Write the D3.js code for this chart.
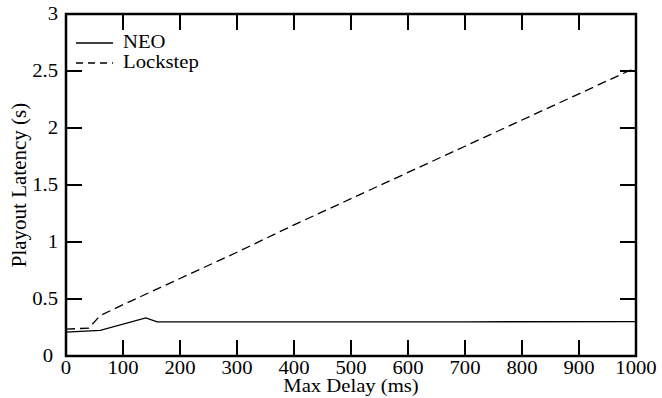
<!DOCTYPE html>
<html>
<head>
<meta charset="utf-8">
<script src="https://cdn.jsdelivr.net/npm/d3@7"></script>
<style>
  body { margin: 0; background: white; }
  text { font-family: "Liberation Serif", "Times New Roman", serif; fill: black; }
</style>
</head>
<body>
<svg id="chart" width="662" height="398"></svg>
<script>
// data
const neoDelay = [0, 60, 140, 160, 400, 700, 1000];
const neoLatency = [0.21, 0.225, 0.335, 0.30, 0.30, 0.30, 0.302];

const lockDelay = [0, 20, 40, 60, 100, 200, 300, 400, 500, 600, 700, 800, 900, 1000];
const lockLatency = [0.235, 0.24, 0.245, 0.355, 0.45, 0.68, 0.91, 1.15, 1.38, 1.61, 1.84, 2.07, 2.30, 2.53];

const xTicks = [0, 100, 200, 300, 400, 500, 600, 700, 800, 900, 1000];
const yTicks = [0, 0.5, 1, 1.5, 2, 2.5, 3];

const svg = d3.select("#chart");
const pLeft = 66, pRight = 636, pTop = 14, pBottom = 356;
const tickLen = 16;
const fs = "18px";
const wide = 1.15; // glyphs in the source look a bit wider than Times

const x = d3.scaleLinear().domain([0, 1000]).range([pLeft, pRight]);
const y = d3.scaleLinear().domain([0, 3]).range([pBottom, pTop]);

// ticks on all four sides, pointing inward
const g = svg.append("g").attr("stroke", "black").attr("stroke-width", 2);
xTicks.slice(1, -1).forEach(t => {
    g.append("line").attr("x1", x(t)).attr("x2", x(t)).attr("y1", pBottom).attr("y2", pBottom - tickLen);
    g.append("line").attr("x1", x(t)).attr("x2", x(t)).attr("y1", pTop).attr("y2", pTop + tickLen);
});
yTicks.slice(1, -1).forEach(t => {
    g.append("line").attr("x1", pLeft).attr("x2", pLeft + tickLen).attr("y1", y(t)).attr("y2", y(t));
    g.append("line").attr("x1", pRight).attr("x2", pRight - tickLen).attr("y1", y(t)).attr("y2", y(t));
});

// tick labels
svg.append("g").selectAll("text").data(xTicks).join("text")
    .attr("transform", d => `translate(${x(d)},374) scale(${wide},1)`)
    .attr("text-anchor", "middle").attr("font-size", fs)
    .text(d => d);
svg.append("g").selectAll("text").data(yTicks).join("text")
    .attr("transform", d => `translate(${d === 0 ? 53 : 58},${y(d) + 6}) scale(${wide},1)`)
    .attr("text-anchor", "end").attr("font-size", fs)
    .text(d => d);

// axis titles
svg.append("text")
    .attr("transform", `translate(${(pLeft + pRight) / 2},392) scale(${wide},1)`)
    .attr("text-anchor", "middle").attr("font-size", fs)
    .text("Max Delay (ms)");
svg.append("text").attr("transform", `translate(26,${(pTop + pBottom) / 2}) rotate(-90)`)
    .attr("text-anchor", "middle").attr("font-size", "21px")
    .text("Playout Latency (s)");

// series
const line = d3.line().x(d => x(d[0])).y(d => y(d[1]));
svg.append("path")
    .datum(neoDelay.map((d, i) => [d, neoLatency[i]]))
    .attr("d", line).attr("fill", "none").attr("stroke", "black").attr("stroke-width", 1.3);
svg.append("path")
    .datum(lockDelay.map((d, i) => [d, lockLatency[i]]))
    .attr("d", line).attr("fill", "none").attr("stroke", "black").attr("stroke-width", 1.3)
    .attr("stroke-dasharray", "9,5");

// frame
svg.append("rect").attr("x", pLeft).attr("y", pTop)
    .attr("width", pRight - pLeft).attr("height", pBottom - pTop)
    .attr("fill", "none").attr("stroke", "black").attr("stroke-width", 2.5);

// legend
const legend = [["NEO", null, 43], ["Lockstep", "7,5", 63]];
legend.forEach(([name, dash, ly]) => {
    svg.append("line").attr("x1", 76).attr("x2", 113).attr("y1", ly).attr("y2", ly)
        .attr("stroke", "black").attr("stroke-width", 1.3)
        .attr("stroke-dasharray", dash);
    svg.append("text").attr("transform", `translate(123,${ly + 5}) scale(${wide},1)`)
        .attr("font-size", fs).text(name);
});
</script>
</body>
</html>
